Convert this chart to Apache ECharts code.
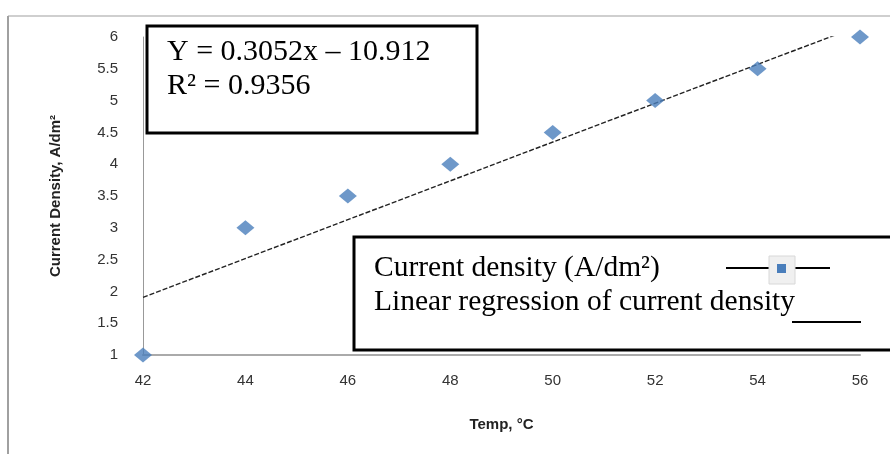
<!DOCTYPE html>
<html>
<head>
<meta charset="utf-8">
<script src="https://cdn.jsdelivr.net/npm/echarts@6/dist/echarts.min.js"></script>
<style>
  html, body { margin: 0; padding: 0; background: #fff; }
  #chart { width: 890px; height: 454px; }
</style>
</head>
<body>
<div id="chart"></div>
<script>
// measured points
var temps = [42, 44, 46, 48, 50, 52, 54, 56]
var density = [1, 3, 3.5, 4, 4.5, 5, 5.5, 6]

// trendline as printed on the chart
var slope = 0.3052
var intercept = -10.912
var r2 = 0.9356
var trendX = [42, 56]

var eqText = 'Y = ' + slope + 'x \u2013 ' + Math.abs(intercept)
var r2Text = 'R\u00b2 = ' + r2

var serif = '"Liberation Serif", "Times New Roman", serif'
var sans = '"Liberation Sans", Arial, sans-serif'

var chart = echarts.init(document.getElementById('chart'))

chart.setOption({
  animation: false,
  backgroundColor: '#fff',
  grid: {
    left: 143,
    right: 30,
    top: 37,
    bottom: 99
  },
  xAxis: {
    type: 'value',
    min: 42,
    max: 56,
    interval: 2,
    name: 'Temp, \u00b0C',
    nameLocation: 'middle',
    nameGap: 62,
    nameTextStyle: { fontFamily: sans, fontSize: 15, fontWeight: 'bold', color: '#222' },
    axisLine: { lineStyle: { color: '#aaa', width: 2 } },
    axisTick: { show: false },
    splitLine: { show: false },
    axisLabel: { margin: 18, fontFamily: sans, fontSize: 15, color: '#333' }
  },
  yAxis: {
    type: 'value',
    min: 1,
    max: 6,
    interval: 0.5,
    name: 'Current Density, A/dm\u00b2',
    nameLocation: 'middle',
    nameGap: 80,
    nameTextStyle: { fontFamily: sans, fontSize: 15, fontWeight: 'bold', color: '#222' },
    axisLine: { show: true, lineStyle: { color: '#999', width: 1 } },
    axisTick: { show: false },
    splitLine: { show: false },
    axisLabel: { margin: 25, fontFamily: sans, fontSize: 15, color: '#333' }
  },
  series: [
    {
      name: 'Linear regression of current density',
      type: 'line',
      clip: true,
      symbol: 'none',
      lineStyle: { color: '#222', width: 1.4, type: [5, 2] },
      data: trendX.map(function (x) { return [x, slope * x + intercept] }),
      z: 2
    },
    {
      name: 'Current density (A/dm\u00b2)',
      type: 'scatter',
      symbol: 'diamond',
      symbolSize: [18, 15],
      itemStyle: { color: '#4a7ebb' },
      data: temps.map(function (t, i) { return [t, density[i]] }),
      clip: false,
      z: 3
    }
  ],
  graphic: [
    // outer frame
    { type: 'line', shape: { x1: 8, y1: 16, x2: 890, y2: 16 }, style: { stroke: '#cfcfcf', lineWidth: 2 } },
    { type: 'line', shape: { x1: 8, y1: 16, x2: 8, y2: 454 }, style: { stroke: '#a0a0a0', lineWidth: 2 } },
    // equation box
    {
      type: 'rect', z: 10,
      shape: { x: 147, y: 26, width: 330, height: 107 },
      style: { fill: '#fff', stroke: '#000', lineWidth: 3 }
    },
    {
      type: 'text', z: 11, left: 167, top: 37,
      style: { text: eqText, font: '30px ' + serif, fill: '#000' }
    },
    {
      type: 'text', z: 11, left: 167, top: 71,
      style: { text: r2Text, font: '30px ' + serif, fill: '#000' }
    },
    // legend box
    {
      type: 'rect', z: 10,
      shape: { x: 354, y: 237, width: 560, height: 113 },
      style: { fill: '#fff', stroke: '#000', lineWidth: 3 }
    },
    {
      type: 'text', z: 11, left: 374, top: 253,
      style: { text: 'Current density (A/dm\u00b2)', font: '29.5px ' + serif, fill: '#000' }
    },
    {
      type: 'text', z: 11, left: 374, top: 287,
      style: { text: 'Linear regression of current density', font: '29.5px ' + serif, fill: '#000' }
    },
    { type: 'line', z: 11, shape: { x1: 726, y1: 268, x2: 830, y2: 268 }, style: { stroke: '#000', lineWidth: 2 } },
    {
      type: 'rect', z: 12,
      shape: { x: 769, y: 256, width: 26, height: 28 },
      style: { fill: '#f0f0f0', stroke: '#d8d8d8', lineWidth: 1 }
    },
    {
      type: 'rect', z: 13,
      shape: { x: 777, y: 264, width: 9, height: 9 },
      style: { fill: '#4a7ebb' }
    },
    { type: 'line', z: 11, shape: { x1: 792, y1: 322, x2: 861, y2: 322 }, style: { stroke: '#000', lineWidth: 2 } }
  ]
})
</script>
</body>
</html>
